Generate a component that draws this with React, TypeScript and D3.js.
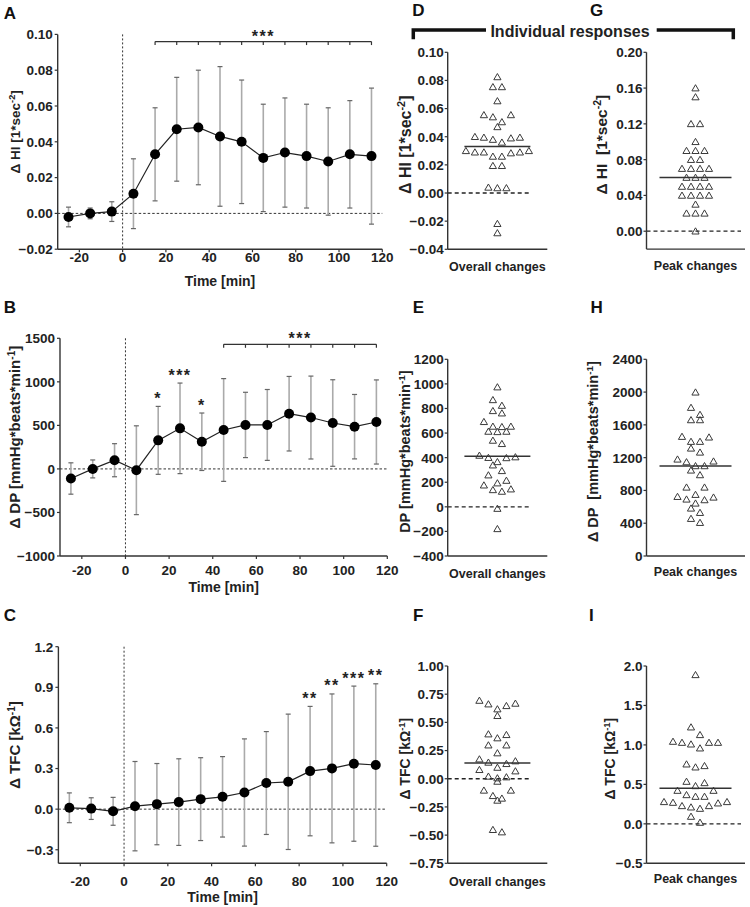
import React, { useEffect } from 'react';
import * as d3 from 'd3';

// ---------------- data ----------------
const timePoints = [-25, -15, -5, 5, 15, 25, 35, 45, 55, 65, 75, 85, 95, 105, 115];
const xTicks = [-20, 0, 20, 40, 60, 80, 100, 120];

const hiMean = [-0.002, 0.0, 0.001, 0.011, 0.033, 0.047, 0.048, 0.043, 0.04, 0.031, 0.034, 0.032, 0.029, 0.033, 0.032];
const hiSD = [0.0055, 0.003, 0.0055, 0.0195, 0.026, 0.029, 0.032, 0.039, 0.0345, 0.03, 0.0305, 0.029, 0.03, 0.03, 0.038];

const dpMean = [-110, 0, 100, -15, 328, 466, 312, 447, 505, 505, 634, 590, 527, 485, 539];
const dpSD = [180, 103, 190, 510, 390, 520, 330, 590, 375, 407, 428, 476, 497, 370, 483];

const tfcMean = [0.01, 0.004, -0.016, 0.022, 0.037, 0.052, 0.074, 0.091, 0.123, 0.193, 0.202, 0.281, 0.301, 0.336, 0.326];
const tfcSD = [0.11, 0.08, 0.103, 0.33, 0.3, 0.32, 0.306, 0.297, 0.396, 0.38, 0.5, 0.478, 0.55, 0.573, 0.6];

const hiTicks = [-0.02, 0.0, 0.02, 0.04, 0.06, 0.08, 0.1];
const dpTicks = [-1000, -500, 0, 500, 1000, 1500];
const tfcTicks = [-0.3, 0.0, 0.3, 0.6, 0.9, 1.2];

const hiBracket = { from: 15, to: 115, level: 0.096, label: '***' };
const dpBracket = { from: 45, to: 115, level: 1431, label: '***' };
const dpStars = [
  { t: 15, label: '*' },
  { t: 25, label: '***' },
  { t: 35, label: '*' },
];
const tfcStars = [
  { t: 85, label: '**' },
  { t: 95, label: '**' },
  { t: 105, label: '***' },
  { t: 115, label: '**' },
];

// individual responses
const hiOverall = [0.0825, 0.0754, 0.0754, 0.0654, 0.0555, 0.054, 0.0555, 0.0505, 0.047, 0.04, 0.0395, 0.038, 0.036, 0.039, 0.0395,
  0.03, 0.029, 0.0284, 0.026, 0.026, 0.029, 0.029, 0.03, 0.0194, 0.0194, 0.004, 0.0036, 0.0036, -0.0218, -0.0284];
const hiPeak = [0.16, 0.15, 0.12, 0.12, 0.1, 0.09, 0.09, 0.09, 0.08, 0.08, 0.07, 0.07, 0.07, 0.07, 0.06, 0.06, 0.06,
  0.05, 0.05, 0.05, 0.05, 0.04, 0.04, 0.04, 0.04, 0.03, 0.02, 0.02, 0.02, 0.0];
const dpOverall = [974, 870, 824, 781, 762, 692, 654, 651, 654, 613, 610, 613, 540, 513, 418, 405, 400, 398, 366, 339,
  293, 258, 214, 193, 176, 144, 138, 125, -14, -179];
const dpPeak = [1998, 1811, 1725, 1660, 1660, 1457, 1449, 1396, 1396, 1314, 1265, 1180, 1156, 1147, 1099, 1099, 1046, 989,
  838, 838, 749, 724, 716, 692, 684, 643, 582, 529, 456, 407];
const tfcOverall = [0.694, 0.668, 0.662, 0.647, 0.618, 0.559, 0.396, 0.39, 0.361, 0.298, 0.298, 0.228, 0.174, 0.157, 0.145,
  0.133, 0.1, 0.08, 0.068, 0.021, 0.015, 0.006, -0.024, -0.103, -0.103, -0.151, -0.174, -0.192, -0.452, -0.473];
const tfcPeak = [1.888, 1.225, 1.128, 1.043, 1.03, 1.03, 1.03, 1.009, 0.959, 0.756, 0.735, 0.718, 0.536, 0.519, 0.481,
  0.422, 0.422, 0.367, 0.346, 0.346, 0.279, 0.279, 0.27, 0.262, 0.228, 0.228, 0.211, 0.194, 0.093, 0.017];

const hiOverallTicks = [-0.04, -0.02, 0.0, 0.02, 0.04, 0.06, 0.08, 0.1];
const hiPeakTicks = [0.0, 0.04, 0.08, 0.12, 0.16, 0.2];
const dpOverallTicks = [-400, -200, 0, 200, 400, 600, 800, 1000, 1200];
const dpPeakTicks = [0, 400, 800, 1200, 1600, 2000, 2400];
const tfcOverallTicks = [-0.75, -0.5, -0.25, 0.0, 0.25, 0.5, 0.75, 1.0];
const tfcPeakTicks = [-0.5, 0.0, 0.5, 1.0, 1.5, 2.0];

// ---------------- styling ----------------
const FONT = '"Liberation Sans", Arial, Helvetica, sans-serif';
const AXIS = '#333';
const TICK_FS = 13.5;

type Title = { main: string; sup?: string; tail?: string };

function YTitle({ x, y, t, fs }: { x: number; y: number; t: Title; fs: number }) {
  return (
    <text transform={`translate(${x},${y}) rotate(-90)`} textAnchor="middle" dy="0.35em"
      fontFamily={FONT} fontWeight="bold" fontSize={fs} fill="#222" style={{ whiteSpace: 'pre' }}>
      {t.main}
      {t.sup ? <tspan dy={-fs * 0.38} fontSize={fs * 0.68}>{t.sup}</tspan> : null}
      {t.tail ? <tspan dy={t.sup ? fs * 0.38 : 0}>{t.tail}</tspan> : null}
    </text>
  );
}

function Stars({ x, y, label }: { x: number; y: number; label: string }) {
  // y = visual centre of the asterisks
  return (
    <text x={x} y={y + 8.5} textAnchor="middle" fontFamily={FONT} fontWeight="bold" fontSize={16}
      letterSpacing={1.5} fill="#222">{label}</text>
  );
}

type TCProps = {
  x0: number; x1: number; yTop: number; yBot: number;
  yDomain: [number, number]; yTicks: number[]; fmt: string;
  mean: number[]; sd: number[];
  bracket?: { from: number; to: number; level: number; label: string };
  stars?: { t: number; label: string }[];
  title: Title; titleX: number; titleFs: number;
  letter: string; letterY: number; tickLabelY: number; xTitleY: number;
};

function TimeCourse(p: TCProps) {
  const x = d3.scaleLinear().domain([-30, 120]).range([p.x0, p.x1]);
  const y = d3.scaleLinear().domain(p.yDomain).range([p.yBot, p.yTop]);
  const f = d3.format(p.fmt);
  const pts = timePoints.map((t, i) => ({ t, m: p.mean[i], s: p.sd[i] }));
  const line = d3.line<{ t: number; m: number }>().x(d => x(d.t)).y(d => y(d.m));
  const cy = (p.yTop + p.yBot) / 2;
  return (
    <g>
      <text x={10} y={p.letterY} textAnchor="middle" dy="0.36em" fontFamily={FONT} fontWeight="bold" fontSize={17} fill="#111">{p.letter}</text>
      {/* zero references */}
      <line x1={p.x0} x2={p.x1} y1={y(0)} y2={y(0)} stroke="#333" strokeWidth={1} strokeDasharray="2.5,2" />
      <line x1={x(0)} x2={x(0)} y1={p.yTop} y2={p.yBot} stroke="#333" strokeWidth={1} strokeDasharray="2,2" />
      {/* error bars */}
      {pts.map((d, i) => (
        <g key={i}>
          <line x1={x(d.t)} x2={x(d.t)} y1={y(d.m - d.s)} y2={y(d.m + d.s)} stroke="#aaa" strokeWidth={1.6} />
          <line x1={x(d.t) - 2.5} x2={x(d.t) + 2.5} y1={y(d.m + d.s)} y2={y(d.m + d.s)} stroke="#666" strokeWidth={1.2} />
          <line x1={x(d.t) - 2.5} x2={x(d.t) + 2.5} y1={y(d.m - d.s)} y2={y(d.m - d.s)} stroke="#666" strokeWidth={1.2} />
        </g>
      ))}
      <path d={line(pts) || ''} fill="none" stroke="#222" strokeWidth={1.2} />
      {pts.map((d, i) => (
        <circle key={i} cx={x(d.t)} cy={y(d.m)} r={5} fill="#000" />
      ))}
      {/* axes */}
      <line x1={p.x0} x2={p.x0} y1={p.yTop} y2={p.yBot} stroke={AXIS} strokeWidth={1.4} />
      <line x1={p.x0} x2={p.x1} y1={p.yBot} y2={p.yBot} stroke={AXIS} strokeWidth={1.4} />
      {p.yTicks.map(v => (
        <g key={v}>
          <line x1={p.x0 - 3} x2={p.x0} y1={y(v)} y2={y(v)} stroke={AXIS} strokeWidth={1.2} />
          <text x={p.x0 - 5} y={y(v)} dy="0.36em" textAnchor="end" fontFamily={FONT} fontWeight="bold" fontSize={TICK_FS} fill="#222">{f(v)}</text>
        </g>
      ))}
      {xTicks.map(v => (
        <g key={v}>
          <line x1={x(v)} x2={x(v)} y1={p.yBot} y2={p.yBot + 3} stroke={AXIS} strokeWidth={1.2} />
          <text x={x(v)} y={p.tickLabelY} dy="0.36em" textAnchor="middle" fontFamily={FONT} fontWeight="bold" fontSize={TICK_FS} fill="#222">{v}</text>
        </g>
      ))}
      <text x={(p.x0 + p.x1) / 2} y={p.xTitleY} dy="0.36em" textAnchor="middle" fontFamily={FONT} fontWeight="bold" fontSize={14} fill="#222">Time [min]</text>
      <YTitle x={p.titleX} y={cy - 10} t={p.title} fs={p.titleFs} />
      {/* significance */}
      {p.bracket ? (
        <g>
          <line x1={x(p.bracket.from)} x2={x(p.bracket.to)} y1={y(p.bracket.level)} y2={y(p.bracket.level)} stroke="#333" strokeWidth={1.2} />
          {timePoints.filter(t => t >= p.bracket!.from && t <= p.bracket!.to).map(t => (
            <line key={t} x1={x(t)} x2={x(t)} y1={y(p.bracket!.level)} y2={y(p.bracket!.level) + 3.5} stroke="#333" strokeWidth={1.2} />
          ))}
          <Stars x={x((p.bracket.from + p.bracket.to) / 2)} y={y(p.bracket.level) - 8.5} label={p.bracket.label} />
        </g>
      ) : null}
      {(p.stars || []).map(s => {
        const i = timePoints.indexOf(s.t);
        return <Stars key={s.t} x={x(s.t)} y={y(p.mean[i] + p.sd[i]) - 11} label={s.label} />;
      })}
    </g>
  );
}

function swarm(values: number[], yScale: (v: number) => number, spacing = 9, thresh = 8.7) {
  const sorted = values.map(v => ({ v, y: yScale(v) })).sort((a, b) => a.y - b.y);
  const out: { v: number; y: number; dx: number }[] = [];
  let i = 0;
  while (i < sorted.length) {
    const start = sorted[i].y;
    const group: { v: number; y: number }[] = [];
    while (i < sorted.length && sorted[i].y - start <= thresh) { group.push(sorted[i]); i++; }
    const n = group.length;
    const slots = d3.range(n).map(k => (k - (n - 1) / 2) * spacing);
    let l = 0, r = n - 1;
    group.forEach((g, k) => {
      const dx = k % 2 === 0 ? slots[l++] : slots[r--];
      out.push({ ...g, dx });
    });
  }
  return out;
}

type SCProps = {
  axisX: number; axisEnd: number; center: number; medHalf: number; dashEnd: number;
  yTop: number; yBot: number; yDomain: [number, number]; yTicks: number[]; fmt: string;
  values: number[]; category: string; catY: number;
  title: Title; titleX: number; titleFs: number; letter: string; letterX: number; letterY: number;
};

function Scatter(p: SCProps) {
  const y = d3.scaleLinear().domain(p.yDomain).range([p.yBot, p.yTop]);
  const xCat = d3.scalePoint<string>().domain([p.category]).range([p.center, p.center]);
  const f = d3.format(p.fmt);
  const pts = swarm(p.values, y);
  const med = d3.median(p.values) as number;
  const cx = xCat(p.category) as number;
  const cy = (p.yTop + p.yBot) / 2;
  const zeroInside = y(0) < p.yBot - 1;
  return (
    <g>
      <text x={p.letterX} y={p.letterY} textAnchor="middle" dy="0.36em" fontFamily={FONT} fontWeight="bold" fontSize={17} fill="#111">{p.letter}</text>
      {zeroInside ? <line x1={p.axisX} x2={p.dashEnd} y1={y(0)} y2={y(0)} stroke="#222" strokeWidth={1.3} strokeDasharray="4,3" /> : null}
      {pts.map((d, i) => (
        <path key={i} transform={`translate(${cx + d.dx},${d.y})`} d="M0,-3.4L3.6,2.8L-3.6,2.8Z" fill="none" stroke="#3a3a3a" strokeWidth={1} />
      ))}
      <line x1={cx - p.medHalf} x2={cx + p.medHalf} y1={y(med)} y2={y(med)} stroke="#333" strokeWidth={1.5} />
      <line x1={p.axisX} x2={p.axisX} y1={p.yTop} y2={p.yBot} stroke={AXIS} strokeWidth={1.4} />
      <line x1={p.axisX} x2={p.axisEnd} y1={p.yBot} y2={p.yBot} stroke={AXIS} strokeWidth={1.4} />
      {p.yTicks.map(v => (
        <g key={v}>
          <line x1={p.axisX - 3} x2={p.axisX} y1={y(v)} y2={y(v)} stroke={AXIS} strokeWidth={1.2} />
          <text x={p.axisX - 4} y={y(v)} dy="0.36em" textAnchor="end" fontFamily={FONT} fontWeight="bold" fontSize={TICK_FS} fill="#222">{f(v)}</text>
        </g>
      ))}
      <text x={cx} y={p.catY} dy="0.36em" textAnchor="middle" fontFamily={FONT} fontWeight="bold" fontSize={12.5} fill="#222">{p.category}</text>
      <YTitle x={p.titleX} y={cy - 6} t={p.title} fs={p.titleFs} />
    </g>
  );
}

const colD = { axisX: 447.7, axisEnd: 547.3, center: 497.4, medHalf: 33, dashEnd: 530.7, letterX: 418.3 };
const colG = { axisX: 646.5, axisEnd: 745, center: 695.5, medHalf: 36, dashEnd: 741, letterX: 596.7 };

export default function App() {
  useEffect(() => { document.body.style.margin = '0'; }, []);
  const titleText = 'Individual responses';
  return (
    <div style={{ position: 'absolute', left: 0, top: 0 }}>
      <svg width={750} height={907} viewBox="0 0 750 907" style={{ display: 'block', background: '#fff' }}>
        <rect width={750} height={907} fill="#fff" />
        <TimeCourse x0={57.7} x1={382.3} yTop={34.4} yBot={249.2} yDomain={[-0.02, 0.1]} yTicks={hiTicks} fmt=".2f"
          mean={hiMean} sd={hiSD} bracket={hiBracket}
          title={{ main: 'Δ HI [1*sec', sup: '-2', tail: ']' }} titleX={15} titleFs={13.5}
          letter="A" letterY={13} tickLabelY={257.5} xTitleY={281} />
        <TimeCourse x0={60} x1={387.3} yTop={338.3} yBot={556} yDomain={[-1000, 1500]} yTicks={dpTicks} fmt="d"
          mean={dpMean} sd={dpSD} bracket={dpBracket} stars={dpStars}
          title={{ main: 'Δ DP [mmHg*beats*min', sup: '-1', tail: ']' }} titleX={15} titleFs={15}
          letter="B" letterY={306.7} tickLabelY={570} xTitleY={587} />
        <TimeCourse x0={58.4} x1={386.7} yTop={646.7} yBot={863.3} yDomain={[-0.4, 1.2]} yTicks={tfcTicks} fmt=".1f"
          mean={tfcMean} sd={tfcSD} stars={tfcStars}
          title={{ main: 'Δ TFC [kΩ', sup: '-1', tail: ']' }} titleX={15} titleFs={15}
          letter="C" letterY={615} tickLabelY={881} xTitleY={896.5} />

        {/* Individual responses header */}
        <path d="M413.3,39.3V30H486" fill="none" stroke="#111" strokeWidth={3.5} />
        <path d="M656.7,30H733.3V39.3" fill="none" stroke="#111" strokeWidth={3.5} />
        <text x={570} y={31} dy="0.36em" textAnchor="middle" fontFamily={FONT} fontWeight="bold" fontSize={16} fill="#222">{titleText}</text>

        <Scatter {...colD} yTop={52.3} yBot={249.3} yDomain={[-0.04, 0.1]} yTicks={hiOverallTicks} fmt=".2f"
          values={hiOverall} category="Overall changes" catY={266.7}
          title={{ main: 'Δ HI [1*sec', sup: '-2', tail: ']' }} titleX={405} titleFs={16} letter="D" letterY={10} />
        <Scatter {...colG} yTop={52.3} yBot={249.1} yDomain={[-0.02, 0.2]} yTicks={hiPeakTicks} fmt=".2f"
          values={hiPeak} category="Peak changes" catY={265}
          title={{ main: 'Δ HI  [1*sec', sup: '-2', tail: ']' }} titleX={601.7} titleFs={15.5} letter="G" letterY={10} />
        <Scatter {...colD} yTop={359.3} yBot={556} yDomain={[-400, 1200]} yTicks={dpOverallTicks} fmt="d"
          values={dpOverall} category="Overall changes" catY={573.3}
          title={{ main: 'DP [mmHg*beats*min', sup: '-1', tail: ']' }} titleX={405} titleFs={14.5} letter="E" letterY={306.7} />
        <Scatter {...colG} yTop={359.3} yBot={556} yDomain={[0, 2400]} yTicks={dpPeakTicks} fmt="d"
          values={dpPeak} category="Peak changes" catY={571.7}
          title={{ main: 'Δ DP  [mmHg*beats*min', sup: '-1', tail: ']' }} titleX={593.3} titleFs={14.5} letter="H" letterY={306.7} />
        <Scatter {...colD} yTop={666} yBot={863.3} yDomain={[-0.75, 1.0]} yTicks={tfcOverallTicks} fmt=".2f"
          values={tfcOverall} category="Overall changes" catY={881}
          title={{ main: 'Δ TFC [kΩ', sup: '-1', tail: ']' }} titleX={405} titleFs={14} letter="F" letterY={615} />
        <Scatter {...colG} yTop={666} yBot={863.3} yDomain={[-0.5, 2.0]} yTicks={tfcPeakTicks} fmt=".1f"
          values={tfcPeak} category="Peak changes" catY={878}
          title={{ main: 'Δ TFC [kΩ', sup: '-1', tail: ']' }} titleX={610} titleFs={14} letter="I" letterY={615} letterX={591.3} />
      </svg>
    </div>
  );
}
